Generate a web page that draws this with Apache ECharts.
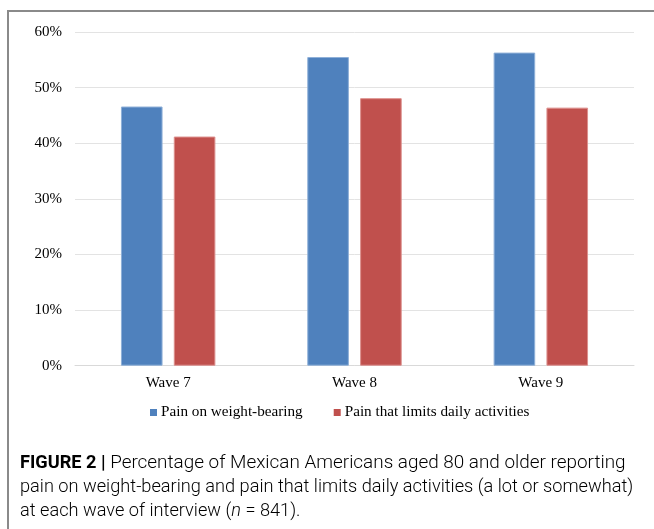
<!DOCTYPE html>
<html>
<head>
<meta charset="utf-8">
<script src="https://cdn.jsdelivr.net/npm/echarts@6/dist/echarts.min.js"></script>
<style>
  html, body { margin: 0; padding: 0; background: #fff; }
  #chart { width: 654px; height: 529px; }
</style>
</head>
<body>
<div id="chart"></div>
<script>
// Wave labels and percentages for each pain measure
const waves = ['Wave 7', 'Wave 8', 'Wave 9'];
const weightBearing = [46.6, 55.5, 56.3];
const limitsActivities = [41.2, 48.1, 46.4];
const seriesNames = ['Pain on weight-bearing', 'Pain that limits daily activities'];
const yTicks = { min: 0, max: 60, step: 10 };

const captionLines = [
  [{ text: 'FIGURE 2 | ', style: 'b' }, { text: 'Percentage of Mexican Americans aged 80 and older reporting', style: 'w' }],
  [{ text: 'pain on weight-bearing and pain that limits daily activities (a lot or somewhat)', style: 'n' }],
  [{ text: 'at each wave of interview (', style: 'n' }, { text: 'n', style: 'i' }, { text: ' = 841).', style: 'n' }]
];

const serif = '"Liberation Serif", "Times New Roman", serif';
const sans = 'Roboto, "Liberation Sans", Arial, sans-serif';
const capSize = 18.2;
const ink = '#231f20';

const chart = echarts.init(document.getElementById('chart'), null, { renderer: 'canvas' });

const captionRich = {
  b: { fontFamily: sans, fontSize: capSize, fontWeight: 'bold', color: ink },
  n: { fontFamily: sans, fontSize: capSize, fontWeight: 300, color: ink },
  w: { fontFamily: sans, fontSize: 18.9, fontWeight: 300, color: ink },
  i: { fontFamily: sans, fontSize: capSize, fontWeight: 300, fontStyle: 'italic', color: ink }
};

const captionGraphics = captionLines.map((parts, i) => ({
  type: 'text',
  left: 20,
  top: 454 + i * 24,
  style: {
    text: parts.map(p => '{' + p.style + '|' + p.text + '}').join(''),
    rich: captionRich,
    fontFamily: sans,
    fontSize: capSize
  }
}));

chart.setOption({
  animation: false,
  backgroundColor: '#fff',
  grid: { left: 75, right: 20, top: 32, bottom: 163.3, containLabel: false },
  legend: {
    data: seriesNames,
    left: 150,
    top: 405,
    padding: 0,
    itemWidth: 7,
    itemHeight: 7,
    itemGap: 31,
    icon: 'rect',
    itemStyle: { borderWidth: 0 },
    textStyle: { fontFamily: serif, fontSize: 15.2, color: '#000', padding: [0, 0, 0, -1] }
  },
  xAxis: {
    type: 'category',
    data: waves,
    axisLine: { lineStyle: { color: '#d9d9d9', width: 1 } },
    axisTick: { show: false },
    axisLabel: { fontFamily: serif, fontSize: 15, color: '#000', margin: 10 }
  },
  yAxis: {
    type: 'value',
    min: yTicks.min,
    max: yTicks.max,
    interval: yTicks.step,
    axisLine: { show: false },
    axisTick: { show: false },
    splitLine: { lineStyle: { color: '#e3e3e3', width: 1 } },
    axisLabel: { fontFamily: serif, fontSize: 15, color: '#000', margin: 13, formatter: '{value}%' }
  },
  series: [
    {
      name: seriesNames[0],
      type: 'bar',
      data: weightBearing,
      barWidth: 41.6,
      barGap: '27%',
      itemStyle: { color: '#4f81bd', borderColor: '#8fb0d8', borderWidth: 1 }
    },
    {
      name: seriesNames[1],
      type: 'bar',
      data: limitsActivities,
      barWidth: 41.6,
      barGap: '27%',
      itemStyle: { color: '#c0504d', borderColor: '#dc8f8d', borderWidth: 1 }
    }
  ],
  graphic: [
    // figure frame: top and left rules
    { type: 'line', shape: { x1: 7, y1: 11, x2: 654, y2: 11 }, style: { stroke: '#8a8a8a', lineWidth: 2 } },
    { type: 'line', shape: { x1: 8, y1: 10, x2: 8, y2: 529 }, style: { stroke: '#8a8a8a', lineWidth: 2 } }
  ].concat(captionGraphics)
});
</script>
</body>
</html>
